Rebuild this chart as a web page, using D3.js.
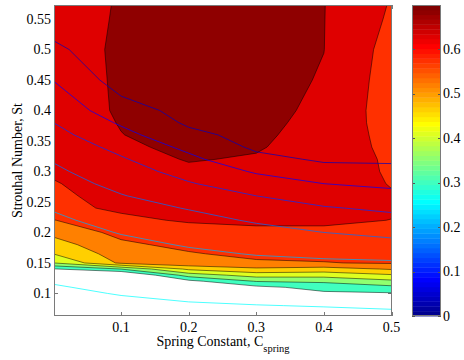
<!DOCTYPE html>
<html>
<head>
<meta charset="utf-8">
<script src="https://cdn.jsdelivr.net/npm/d3@7"></script>
<style>
  html, body { margin: 0; padding: 0; background: #fff; }
  svg { display: block; font-family: "Liberation Serif", "Times New Roman", serif; }
</style>
</head>
<body>
<svg id="chart" width="464" height="360"></svg>
<script>
// Grid columns: spring constant C_spring
const cSpring = [0, 0.1, 0.2, 0.3, 0.4, 0.5];

// Grid rows: Strouhal number St
const strouhal = [0.063, 0.08, 0.1, 0.11, 0.12, 0.13, 0.14, 0.15, 0.165, 0.18,
                  0.2, 0.22, 0.24, 0.26, 0.28, 0.3, 0.32, 0.34, 0.36, 0.38,
                  0.4, 0.45, 0.5, 0.55, 0.573];

// Efficiency (filled contours), one row per St, one column per C_spring
const efficiency = [
  [0.150, 0.100, 0.090, 0.080, 0.120, 0.140],
  [0.190, 0.130, 0.120, 0.130, 0.200, 0.200],
  [0.230, 0.160, 0.160, 0.220, 0.290, 0.295],
  [0.250, 0.180, 0.200, 0.285, 0.320, 0.340],
  [0.265, 0.205, 0.284, 0.358, 0.365, 0.398],
  [0.280, 0.2175, 0.380, 0.434, 0.432, 0.459],
  [0.296, 0.356, 0.476, 0.510, 0.497, 0.525],
  [0.410, 0.530, 0.560, 0.566, 0.573, 0.580],
  [0.466, 0.547, 0.570, 0.590, 0.588, 0.587],
  [0.496, 0.564, 0.590, 0.604, 0.601, 0.599],
  [0.535, 0.591, 0.614, 0.623, 0.623, 0.6145],
  [0.573, 0.622, 0.634, 0.636, 0.636, 0.6295],
  [0.620, 0.636, 0.645, 0.645, 0.642, 0.634],
  [0.622, 0.644, 0.655, 0.654, 0.647, 0.633],
  [0.627, 0.652, 0.666, 0.663, 0.652, 0.628],
  [0.636, 0.660, 0.677, 0.672, 0.656, 0.6245],
  [0.642, 0.668, 0.6877, 0.681, 0.660, 0.622],
  [0.647, 0.676, 0.697, 0.689, 0.664, 0.616],
  [0.651, 0.684, 0.703, 0.693, 0.668, 0.611],
  [0.655, 0.6875, 0.707, 0.697, 0.671, 0.606],
  [0.658, 0.6905, 0.710, 0.700, 0.6746, 0.603],
  [0.663, 0.6907, 0.712, 0.703, 0.6813, 0.605],
  [0.665, 0.6914, 0.712, 0.703, 0.6855, 0.610],
  [0.666, 0.689, 0.710, 0.702, 0.686, 0.622],
  [0.666, 0.6882, 0.709, 0.701, 0.6862, 0.626]
];
const efficiencyLevels = [0.30, 0.355, 0.41, 0.465, 0.52, 0.575, 0.63, 0.685];

// Second quantity, drawn as coloured contour lines over the fill
const secondaryField = [
  [0.286, 0.281, 0.275, 0.273, 0.271, 0.268],
  [0.278, 0.270, 0.264, 0.261, 0.2585, 0.2556],
  [0.268, 0.258, 0.251, 0.246, 0.2435, 0.241],
  [0.263, 0.252, 0.244, 0.239, 0.236, 0.233],
  [0.257, 0.246, 0.237, 0.231, 0.2285, 0.226],
  [0.252, 0.240, 0.231, 0.224, 0.221, 0.218],
  [0.247, 0.234, 0.224, 0.217, 0.2135, 0.211],
  [0.242, 0.228, 0.217, 0.210, 0.206, 0.204],
  [0.235, 0.219, 0.207, 0.198, 0.193, 0.189],
  [0.227, 0.210, 0.197, 0.187, 0.179, 0.171],
  [0.217, 0.198, 0.185, 0.172, 0.160, 0.151],
  [0.207, 0.186, 0.172, 0.156, 0.141, 0.132],
  [0.197, 0.174, 0.158, 0.138, 0.123, 0.113],
  [0.187, 0.162, 0.140, 0.120, 0.102, 0.092],
  [0.177, 0.149, 0.123, 0.098, 0.080, 0.072],
  [0.167, 0.137, 0.106, 0.076, 0.054, 0.051],
  [0.157, 0.124, 0.089, 0.051, 0.035, 0.034],
  [0.145, 0.109, 0.071, 0.033, 0.029, 0.029],
  [0.132, 0.0925, 0.050, 0.027, 0.024, 0.024],
  [0.120, 0.075, 0.034, 0.022, 0.020, 0.020],
  [0.108, 0.056, 0.028, 0.018, 0.017, 0.017],
  [0.079, 0.022, 0.018, 0.012, 0.011, 0.011],
  [0.049, 0.010, 0.010, 0.007, 0.006, 0.006],
  [0.018, 0.003, 0.004, 0.003, 0.003, 0.003],
  [0.004, 0.001, 0.002, 0.001, 0.001, 0.001]
];
const secondaryLevels = [0.04, 0.08, 0.12, 0.16, 0.20, 0.26];

// Axis ticks
const xTicks = [0.1, 0.2, 0.3, 0.4, 0.5];
const yTicks = [0.1, 0.15, 0.2, 0.25, 0.3, 0.35, 0.4, 0.45, 0.5, 0.55];
const colorTicks = [0, 0.1, 0.2, 0.3, 0.4, 0.5, 0.6];
const colorRange = [0, 0.7];

// ---------------------------------------------------------------
const svg = d3.select("#chart");
const plot = { left: 54, right: 392, top: 5, bottom: 316 };
const bar = { left: 412, right: 441, top: 5, bottom: 316 };
const axisGray = "#7a7a7a";

const x = d3.scaleLinear().domain([0, 0.5]).range([53.5, 391.5]);
const y = d3.scaleLinear().domain([0.063, 0.573]).range([plot.bottom, plot.top]);

// 64-entry jet colour map, indexed like a classic colormap lookup
function jet(k) {
  const c = v => Math.max(0, Math.min(1, v));
  const r = c(Math.min((k - 24) / 16, (72 - k) / 16));
  const g = c(Math.min((k - 8) / 16, (56 - k) / 16));
  const b = c(Math.min((k + 8) / 16, (40 - k) / 16));
  return d3.rgb(Math.round(r * 255), Math.round(g * 255), Math.round(b * 255)).toString();
}
function colorOf(v) {
  const k = Math.min(64, Math.max(1, Math.floor((v - colorRange[0]) / (colorRange[1] - colorRange[0]) * 64) + 1));
  return jet(k);
}

// Grid index -> data coordinate (non-uniform rows)
const nx = cSpring.length, ny = strouhal.length;
const colIdx = d3.scaleLinear().domain(d3.range(nx)).range(cSpring);
const rowIdx = d3.scaleLinear().domain(d3.range(ny)).range(strouhal);

// Repeat the edge cells once so contours meet the frame exactly
function padGrid(rows) {
  const out = [];
  for (let j = -1; j <= ny; j++) {
    const r = rows[Math.min(ny - 1, Math.max(0, j))];
    for (let i = -1; i <= nx; i++) out.push(r[Math.min(nx - 1, Math.max(0, i))]);
  }
  return out;
}

const projection = d3.geoTransform({
  point(px, py) {
    this.stream.point(x(colIdx(px - 1.5)), y(rowIdx(py - 1.5)));
  }
});
const path = d3.geoPath(projection);

// Ticks sit underneath the filled contours
const tickLen = 4;
const ticks = svg.append("g").attr("stroke", axisGray).attr("stroke-width", 1);
xTicks.forEach(v => {
  const px = Math.round(x(v)) + 0.5;
  ticks.append("line").attr("x1", px).attr("x2", px).attr("y1", plot.bottom).attr("y2", plot.bottom - tickLen);
  ticks.append("line").attr("x1", px).attr("x2", px).attr("y1", plot.top).attr("y2", plot.top + tickLen);
});
yTicks.forEach(v => {
  const py = Math.round(y(v)) + 0.5;
  ticks.append("line").attr("x1", plot.left).attr("x2", plot.left + tickLen).attr("y1", py).attr("y2", py);
  ticks.append("line").attr("x1", plot.right).attr("x2", plot.right - tickLen).attr("y1", py).attr("y2", py);
});

svg.append("clipPath").attr("id", "plot-clip")
  .append("rect")
  .attr("x", plot.left).attr("y", plot.top)
  .attr("width", plot.right - plot.left).attr("height", plot.bottom - plot.top);

const field = svg.append("g").attr("clip-path", "url(#plot-clip)");

// Filled efficiency bands
const fills = d3.contours().size([nx + 2, ny + 2]).thresholds(efficiencyLevels)(padGrid(efficiency));
field.append("g").selectAll("path")
  .data(fills)
  .join("path")
  .attr("d", path)
  .attr("fill", d => colorOf(d.value))
  .attr("stroke", "#000")
  .attr("stroke-width", 0.5)
  .attr("stroke-linejoin", "round");

// Coloured contour lines of the second quantity
const lines = d3.contours().size([nx + 2, ny + 2]).thresholds(secondaryLevels)(padGrid(secondaryField));
field.append("g").selectAll("path")
  .data(lines)
  .join("path")
  .attr("d", path)
  .attr("fill", "none")
  .attr("stroke", d => colorOf(d.value))
  .attr("stroke-width", 0.7)
  .attr("stroke-linejoin", "round");

// Axes frame
svg.append("rect")
  .attr("x", plot.left + 0.5).attr("y", plot.top + 0.5)
  .attr("width", plot.right - plot.left - 1).attr("height", plot.bottom - plot.top - 1)
  .attr("fill", "none").attr("stroke", axisGray).attr("stroke-width", 1);

// Tick labels
const fontSize = 14;
svg.append("g").selectAll("text")
  .data(xTicks).join("text")
  .attr("x", d => x(d)).attr("y", 331.5)
  .attr("text-anchor", "middle")
  .attr("font-size", fontSize)
  .text(d => String(d));

svg.append("g").selectAll("text")
  .data(yTicks).join("text")
  .attr("x", 51).attr("y", d => y(d))
  .attr("dy", "0.33em")
  .attr("text-anchor", "end")
  .attr("font-size", fontSize)
  .text(d => String(d));

// Axis titles
const xTitle = svg.append("text")
  .attr("x", (plot.left + plot.right) / 2).attr("y", 345.5)
  .attr("text-anchor", "middle")
  .attr("font-size", fontSize);
xTitle.append("tspan").text("Spring Constant, C");
xTitle.append("tspan").attr("dy", 6).attr("font-size", 10.5).text("spring");

svg.append("text")
  .attr("transform", `translate(22,${(plot.top + plot.bottom) / 2}) rotate(-90)`)
  .attr("text-anchor", "middle")
  .attr("font-size", fontSize)
  .text("Strouhal Number, St");

// Colour bar
const cb = d3.scaleLinear().domain(colorRange).range([bar.bottom, bar.top]);
const steps = d3.range(64);
const stepH = (bar.bottom - bar.top) / 64;
svg.append("g").selectAll("rect")
  .data(steps).join("rect")
  .attr("x", bar.left).attr("width", bar.right - bar.left)
  .attr("y", k => bar.bottom - (k + 1) * stepH)
  .attr("height", stepH + 0.4)
  .attr("fill", k => jet(k + 1));

const cbTicks = svg.append("g").attr("stroke", "#555").attr("stroke-width", 1);
colorTicks.forEach(v => {
  const py = Math.round(cb(v)) + 0.5;
  cbTicks.append("line").attr("x1", bar.left).attr("x2", bar.left + 3).attr("y1", py).attr("y2", py);
  cbTicks.append("line").attr("x1", bar.right).attr("x2", bar.right - 3).attr("y1", py).attr("y2", py);
});

svg.append("rect")
  .attr("x", bar.left + 0.5).attr("y", bar.top + 0.5)
  .attr("width", bar.right - bar.left - 1).attr("height", bar.bottom - bar.top - 1)
  .attr("fill", "none").attr("stroke", axisGray).attr("stroke-width", 1);

svg.append("g").selectAll("text")
  .data(colorTicks).join("text")
  .attr("x", 443).attr("y", d => cb(d))
  .attr("dy", "0.33em")
  .attr("font-size", fontSize)
  .text(d => String(d));
</script>
</body>
</html>
